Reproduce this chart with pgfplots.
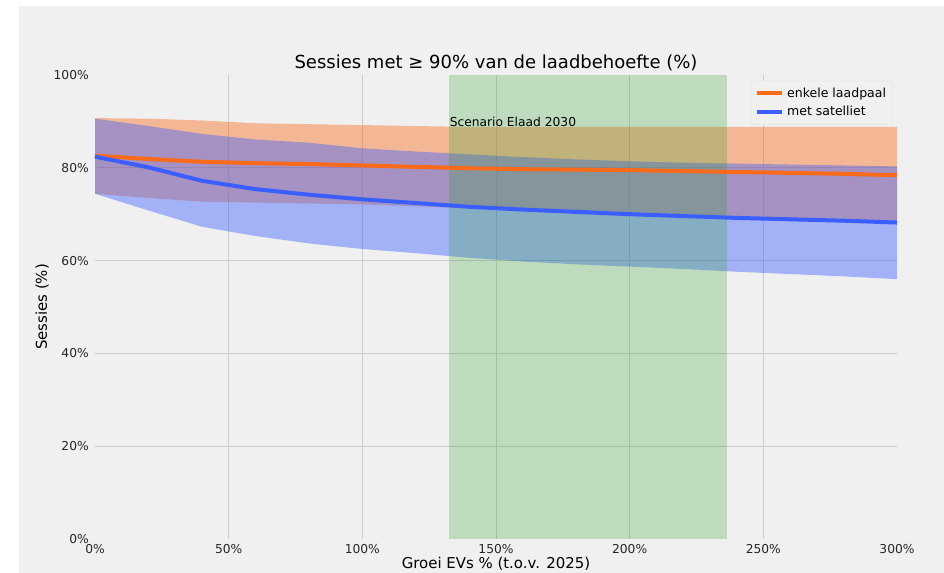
\documentclass[border=0pt]{standalone}
\usepackage{fontspec}
\setmainfont{DejaVu Sans}
\usepackage{pgfplots}
\pgfplotsset{compat=1.18}
\definecolor{bgc}{HTML}{F0F0F0}
\definecolor{gridc}{HTML}{CBCBCB}
\definecolor{lineOrange}{HTML}{F96A1B}
\definecolor{lineBlue}{HTML}{3A5EFF}
\definecolor{tabGreen}{HTML}{2CA02C}

% medians, x in % growth
\pgfplotstableread{
x   omed  bmed
0   82.6  82.4
20  81.9  80.1
40  81.3  77.2
60  81.0  75.4
80  80.8  74.2
100 80.5  73.2
120 80.2  72.4
140 79.9  71.6
160 79.7  71.0
180 79.6  70.5
200 79.5  70.0
220 79.3  69.6
240 79.1  69.2
260 78.9  68.9
280 78.7  68.6
300 78.4  68.2
}\medians

\begin{document}
\begin{tikzpicture}
% page: 944 x 573 px at 0.75pt per px
\fill[white] (0pt,0pt) rectangle (708pt,429.75pt);
\fill[bgc] (14.25pt,0pt) rectangle (708pt,425.25pt);
\begin{axis}[
    at={(71.25pt,25.5pt)}, anchor=south west,
    width=601.5pt, height=348pt, scale only axis,
    xmin=0, xmax=300, ymin=0, ymax=100,
    % inner ticks carry the grid, the edge ticks only a label
    xtick={50,100,...,250}, xticklabels={50\%,100\%,150\%,200\%,250\%},
    ytick={20,40,...,80}, yticklabels={20\%,40\%,60\%,80\%},
    extra x ticks={0,300}, extra x tick labels={0\%,300\%},
    extra y ticks={0,100}, extra y tick labels={0\%,100\%},
    xmajorgrids, ymajorgrids,
    extra x tick style={grid=none},
    extra y tick style={grid=none},
    grid style={line width=0.7pt, draw=gridc},
    axis line style={draw=none},
    major tick length=0pt,
    tick label style={font=\fontsize{9.2}{11}\selectfont, text=black!85},
    xticklabel style={inner sep=0pt, yshift=-3.5pt},
    yticklabel style={inner sep=0pt, xshift=-4.5pt},
    every axis title shift=0pt,
    title={Sessies met ≥ 90\% van de laadbehoefte (\%)},
    title style={at={(axis description cs:0.5,1.013)}, anchor=base,
        font=\fontsize{13.5}{16}\selectfont},
    xlabel={Groei EVs \% (t.o.v. 2025)},
    xlabel style={at={(axis description cs:0.5,-0.063)}, anchor=base,
        font=\fontsize{11.2}{13}\selectfont},
    ylabel={Sessies (\%)},
    ylabel style={at={(axis description cs:-0.066,0.5)}, anchor=center,
        font=\fontsize{11.2}{13}\selectfont},
    legend style={at={(axis description cs:0.995,0.988)}, anchor=north east,
        fill=bgc, draw=black!10, rounded corners=2pt,
        font=\fontsize{9.4}{11}\selectfont, row sep=1.5pt, inner sep=3pt},
    legend cell align=left,
    legend image code/.code={\draw[#1, line width=3pt] (0pt,0pt) -- (19pt,0pt);},
    clip=false,
]
% spread band "enkele laadpaal": upper edge left to right, lower edge back
\addplot[fill=lineOrange, fill opacity=0.42, draw=none, forget plot]
    coordinates {(0,90.7) (20,90.6) (40,90.2) (60,89.6) (80,89.4) (100,89.2)
    (120,89.0) (140,88.8) (160,88.8) (180,88.8) (200,88.8) (220,88.8)
    (240,88.8) (260,88.8) (280,88.8) (300,88.8)
    (300,68.6) (280,68.9) (260,69.2) (240,69.6) (220,69.9) (200,70.2)
    (180,70.5) (160,70.9) (140,71.3) (120,71.7) (100,72.1) (80,72.3)
    (60,72.5) (40,72.7) (20,73.5) (0,74.4)};
% spread band "met satelliet"
\addplot[fill=lineBlue, fill opacity=0.42, draw=none, forget plot]
    coordinates {(0,90.6) (20,89.0) (40,87.3) (60,86.1) (80,85.4) (100,84.2)
    (120,83.5) (140,82.9) (160,82.3) (180,81.8) (200,81.4) (220,81.1)
    (240,80.9) (260,80.7) (280,80.5) (300,80.3)
    (300,56.0) (280,56.6) (260,57.1) (240,57.6) (220,58.2) (200,58.7)
    (180,59.2) (160,59.8) (140,60.6) (120,61.6) (100,62.5) (80,63.7)
    (60,65.3) (40,67.3) (20,70.8) (0,74.4)};

% scenario band
\addplot[fill=tabGreen, fill opacity=0.25, draw=none, forget plot]
    coordinates {(132.5,0) (236.3,0) (236.3,100) (132.5,100)};
\node[anchor=base west, inner sep=0pt, font=\fontsize{9.2}{11}\selectfont]
    at (axis cs:132.6,88.9) {Scenario Elaad 2030};

% medians
\addplot[lineOrange, line width=3pt] table[x=x, y=omed] {\medians};
\addlegendentry{enkele laadpaal}
\addplot[lineBlue, line width=3pt] table[x=x, y=bmed] {\medians};
\addlegendentry{met satelliet}
\end{axis}
\pgfresetboundingbox
\useasboundingbox (0pt,0pt) rectangle (708pt,429.75pt);
\end{tikzpicture}
\end{document}
